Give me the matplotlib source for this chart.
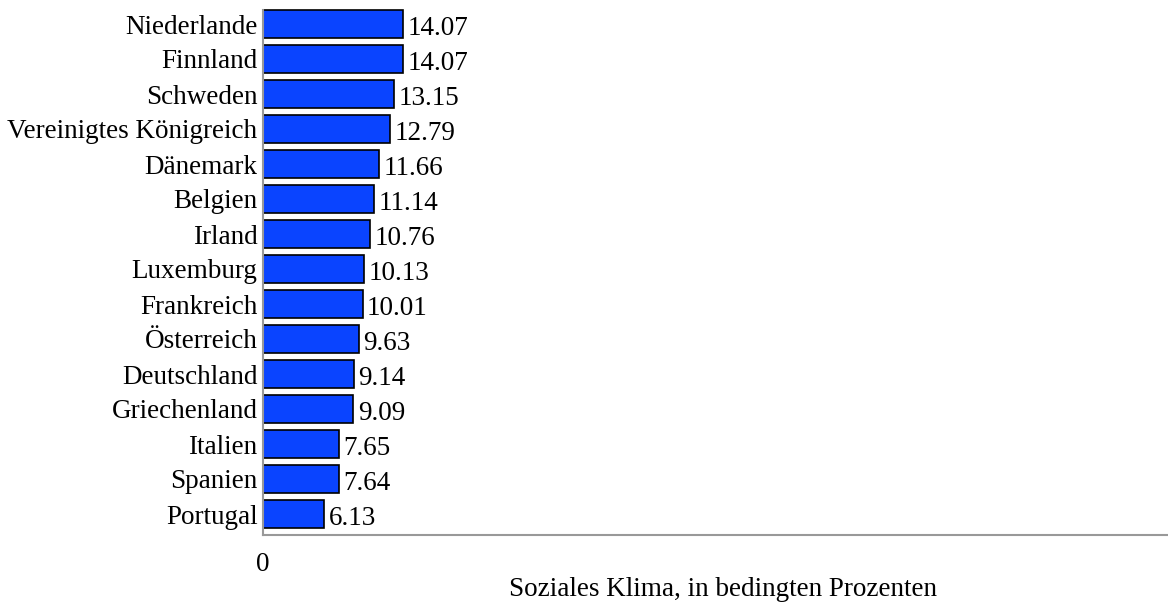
import matplotlib
matplotlib.use("Agg")
import matplotlib.pyplot as plt

countries = ["Niederlande", "Finnland", "Schweden", "Vereinigtes Königreich",
             "Dänemark", "Belgien", "Irland", "Luxemburg", "Frankreich",
             "Österreich", "Deutschland", "Griechenland", "Italien", "Spanien",
             "Portugal"]
values = [14.07, 14.07, 13.15, 12.79, 11.66, 11.14, 10.76, 10.13, 10.01,
          9.63, 9.14, 9.09, 7.65, 7.64, 6.13]
value_labels = ["14.07", "14.07", "13.15", "12.79", "11.66", "11.14", "10.76",
                "10.13", "10.01", "9.63", "9.14", "9.09", "7.65", "7.64", "6.13"]
xlabel = "Soziales Klima, in bedingten Prozenten"

plt.rcParams['font.family'] = ['Liberation Serif', 'DejaVu Serif']
FS = 19.5

fig = plt.figure(figsize=(11.68, 6.02), dpi=100)
ax = fig.add_axes([263/1168, 1 - 535/602, 1 - 263/1168, (535 - 3)/602])

ypos = list(range(len(countries)))
ax.barh(ypos, values, height=0.8, color='#0A44FF', edgecolor='black', linewidth=1.2)
for y, v, lab in zip(ypos, values, value_labels):
    ax.text(v + 0.45, y + 0.03, lab, va='center_baseline', ha='left', fontsize=FS)

ax.set_yticks(ypos)
ax.set_yticklabels(countries, fontsize=FS)
ax.set_ylim(len(countries) - 0.4, -0.6)
ax.set_xlim(0, 91)
ax.set_xticks([0])
ax.set_xticklabels(["0"], fontsize=FS)
ax.tick_params(axis='both', length=0, pad=4)
ax.tick_params(axis='x', pad=12)
ax.set_xlabel(xlabel, fontsize=FS)
ax.xaxis.label.set_va('baseline')
ax.xaxis.set_label_coords(0.508, -0.1147)

for s in ['top', 'right']:
    ax.spines[s].set_visible(False)
for s in ['left', 'bottom']:
    ax.spines[s].set_color('#999999')
    ax.spines[s].set_linewidth(1.5)
ax.spines['left'].set_bounds(len(countries) - 0.4, -0.4)

fig.savefig("out.png", dpi=100)
